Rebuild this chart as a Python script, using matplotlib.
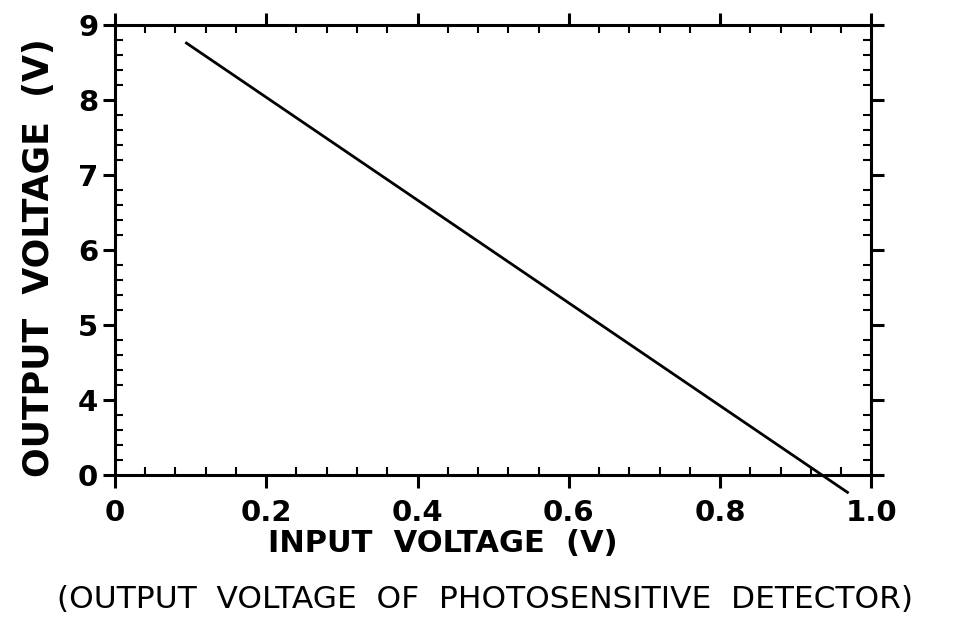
import matplotlib
matplotlib.use("Agg")
import matplotlib.pyplot as plt
from matplotlib.ticker import MultipleLocator

# line (y in plotted units, bottom of axis labelled "0")
input_v = [0.093, 0.970]
output_v = [8.77, 2.76]

x_ticks = [0, 0.2, 0.4, 0.6, 0.8, 1.0]
x_labels = ["0", "0.2", "0.4", "0.6", "0.8", "1.0"]
y_ticks = [3, 4, 5, 6, 7, 8, 9]
y_labels = ["0", "4", "5", "6", "7", "8", "9"]

plt.rcParams["font.family"] = ["DejaVu Sans"]

fig = plt.figure(figsize=(9.66, 6.26), dpi=100)
ax = fig.add_axes([0.119, 0.241, 0.783, 0.719])

ax.plot(input_v, output_v, color="black", lw=2.0, clip_on=False,
        solid_capstyle="butt")

ax.set_xlim(0, 1.0)
ax.set_ylim(3, 9)

ax.set_xticks(x_ticks)
ax.set_xticklabels(x_labels)
ax.set_yticks(y_ticks)
ax.set_yticklabels(y_labels)
ax.xaxis.set_minor_locator(MultipleLocator(0.04))
ax.yaxis.set_minor_locator(MultipleLocator(0.2))

for s in ax.spines.values():
    s.set_linewidth(2.2)

ax.tick_params(which="major", direction="out", length=9, width=2.2,
               top=True, right=True, labelsize=21, pad=3)
ax.tick_params(axis="x", which="major", pad=8)
ax.tick_params(which="minor", direction="in", length=6, width=1.5,
               top=True, right=True)
for lab in ax.get_xticklabels() + ax.get_yticklabels():
    lab.set_fontweight("bold")

fig.text(0.040, 0.588, "OUTPUT  VOLTAGE  (V)", fontsize=25, fontweight="bold",
         rotation=90, ha="center", va="center")

fig.text(0.458, 0.131, "INPUT  VOLTAGE  (V)", fontsize=22,
         fontweight="bold", ha="center", va="center")
fig.text(0.502, 0.042, "(OUTPUT  VOLTAGE  OF  PHOTOSENSITIVE  DETECTOR)",
         fontsize=22.5, ha="center", va="center")

fig.savefig("out.png", dpi=100)
